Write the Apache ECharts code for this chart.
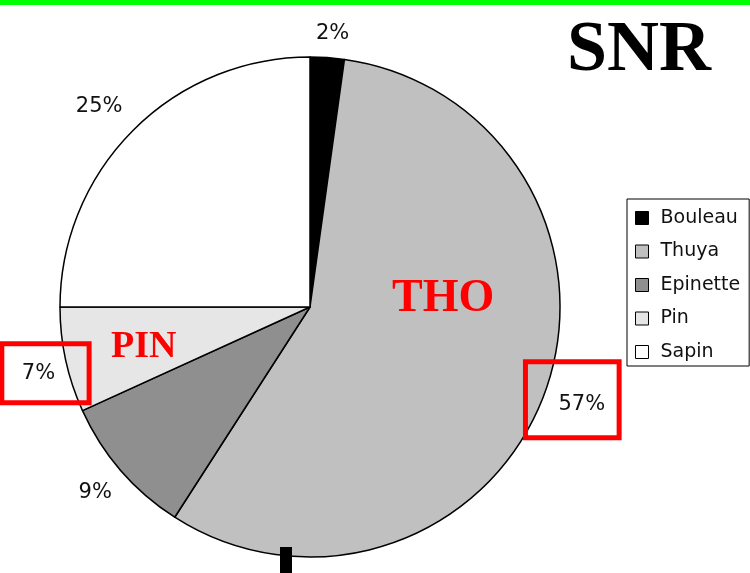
<!DOCTYPE html>
<html>
<head>
<meta charset="utf-8">
<script src="https://cdn.jsdelivr.net/npm/echarts@6/dist/echarts.min.js"></script>
<style>
html,body{margin:0;padding:0;background:#fff;}
#chart{width:750px;height:573px;}
</style>
</head>
<body>
<div id="chart"></div>
<script>
const categories = ['Bouleau', 'Thuya', 'Epinette', 'Pin', 'Sapin'];
const values = [2.2, 56.9, 9.1, 6.8, 25.0];
const sliceColors = ['#000000', '#c0c0c0', '#8f8f8f', '#e6e6e6', '#ffffff'];
const chartTitle = 'SNR';
const annotations = { Thuya: 'THO', Pin: 'PIN' };

const chart = echarts.init(document.getElementById('chart'), null, { renderer: 'canvas' });

const mainData = categories.map((c, i) => ({
  name: c, value: values[i], itemStyle: { color: sliceColors[i] }
}));

const labelFont = { fontFamily: 'DejaVu Sans', fontSize: 21, color: '#111', lineHeight: 25 };
const labelData = categories.map((c, i) => {
  const item = { name: c + ' ', value: values[i] };
  if (c === 'Thuya') {
    item.label = {
      borderColor: '#ff0000', borderWidth: 5, padding: [26, 14, 25, 33], offset: [-4, -6],
      formatter: '{t|{d}%}',
      rich: { t: Object.assign({ padding: [8, 0, 0, 0] }, labelFont) }
    };
  } else if (c === 'Pin') {
    item.label = { borderColor: '#ff0000', borderWidth: 5, padding: [12, 34, 22, 20], offset: [13, 6] };
  } else if (c === 'Sapin') {
    item.label = { offset: [-10, 0] };
  } else if (c === 'Bouleau') {
    item.label = { offset: [3, 10] };
  }
  return item;
});

const option = {
  animation: false,
  backgroundColor: '#ffffff',
  legend: {
    data: categories,
    orient: 'vertical',
    left: 627,
    top: 199,
    padding: [9, 9, 4, 8],
    itemGap: 13.5,
    itemWidth: 13,
    itemHeight: 13,
    borderColor: '#000',
    borderWidth: 1,
    icon: 'rect',
    itemStyle: { borderColor: '#000', borderWidth: 1 },
    textStyle: { fontFamily: 'DejaVu Sans', fontSize: 19, color: '#111', lineHeight: 20, padding: [0, 0, 0, 7] }
  },
  graphic: [
    { type: 'rect', z: 100, left: 0, top: 0, shape: { width: 750, height: 5 }, style: { fill: '#00ff00' } },
    { type: 'text', z: 100, left: 567, top: 15, style: { text: chartTitle, font: 'bold 72px "Liberation Serif"', fill: '#000' } },
    { type: 'text', z: 100, left: 392, top: 276, style: { text: annotations.Thuya, font: 'bold 46px "Liberation Serif"', fill: '#ff0000' } },
    { type: 'text', z: 100, left: 111, top: 328, style: { text: annotations.Pin, font: 'bold 38px "Liberation Serif"', fill: '#ff0000' } },
    { type: 'rect', z: 100, left: 280, top: 547, shape: { width: 12, height: 30 }, style: { fill: '#000' } }
  ],
  series: [
    {
      type: 'pie',
      center: [310, 307],
      radius: 250,
      startAngle: 90,
      clockwise: true,
      silent: true,
      label: { show: false },
      labelLine: { show: false },
      itemStyle: { borderColor: '#000', borderWidth: 1.5 },
      emphasis: { disabled: true },
      data: mainData
    },
    {
      type: 'pie',
      center: [310, 307],
      radius: [250, 312],
      startAngle: 90,
      clockwise: true,
      silent: true,
      percentPrecision: 0,
      itemStyle: { color: 'rgba(0,0,0,0)', borderWidth: 0 },
      label: Object.assign({ show: true, position: 'inside', formatter: '{d}%' }, labelFont),
      labelLine: { show: false },
      emphasis: { disabled: true },
      data: labelData
    }
  ]
};
chart.setOption(option);
</script>
</body>
</html>
